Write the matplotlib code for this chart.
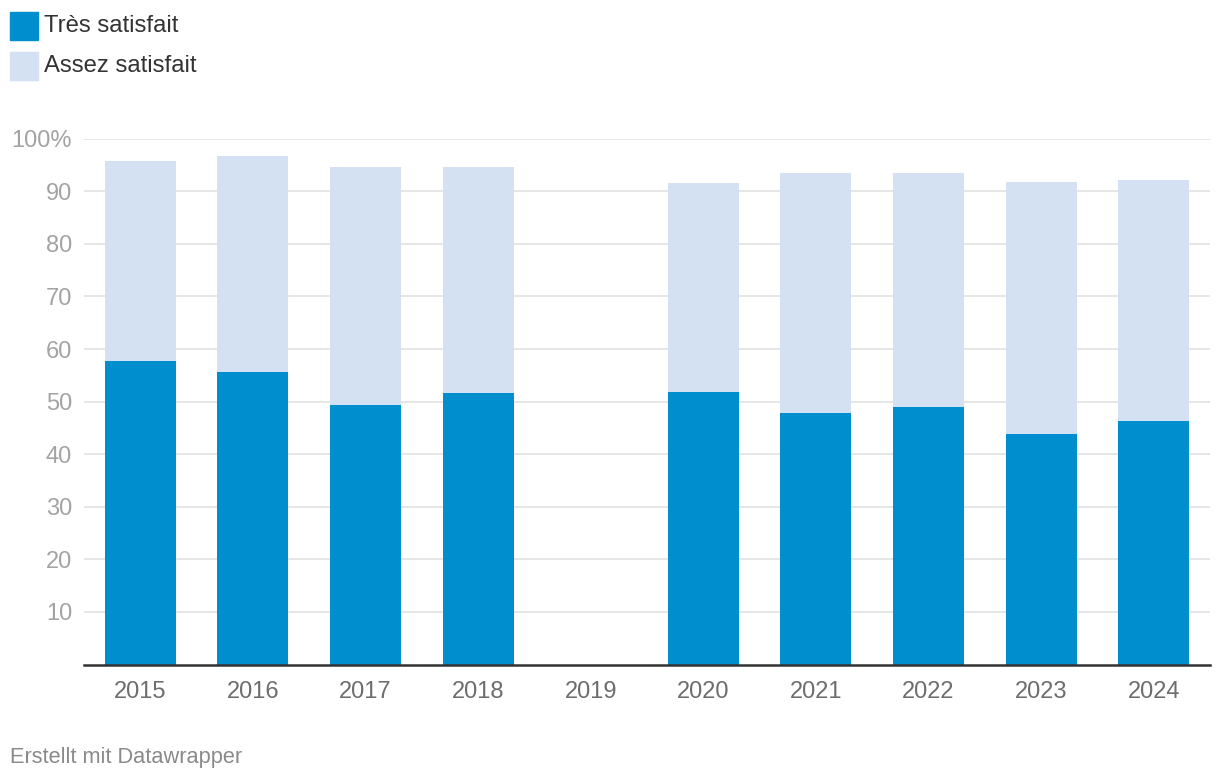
import matplotlib
matplotlib.use("Agg")
import matplotlib.pyplot as plt
from matplotlib.patches import Rectangle

plt.rcParams["font.family"] = ["Liberation Sans", "DejaVu Sans"]

years = ["2015", "2016", "2017", "2018", "2019", "2020", "2021", "2022", "2023", "2024"]
tres = [57.7, 55.6, 49.3, 51.7, None, 51.9, 47.9, 48.9, 43.8, 46.4]
assez = [38.0, 41.1, 45.3, 42.9, None, 39.6, 45.5, 44.5, 47.9, 45.8]
yticks = [10, 20, 30, 40, 50, 60, 70, 80, 90, 100]
ytick_labels = ["10", "20", "30", "40", "50", "60", "70", "80", "90", "100%"]

dark = "#008ecf"
light = "#d3e1f3"

fig = plt.figure(figsize=(12.2, 7.8), dpi=100)
ax = fig.add_axes([84 / 1220, 115.5 / 780, 1126 / 1220, 525.8 / 780])

x = list(range(len(years)))
t = [v if v is not None else 0 for v in tres]
a = [v if v is not None else 0 for v in assez]
ax.bar(x, t, width=0.63, color=dark, zorder=2)
ax.bar(x, a, bottom=t, width=0.63, color=light, zorder=2)

ax.set_xlim(-0.5, len(years) - 0.5)
ax.set_ylim(0, 100)
ax.set_yticks(yticks)
ax.set_yticklabels(ytick_labels)
ax.set_xticks(x)
ax.set_xticklabels(years)
ax.yaxis.grid(True, color="#e4e4e4", linewidth=1.3, zorder=0)
ax.set_axisbelow(True)
for s in ["top", "right", "left"]:
    ax.spines[s].set_visible(False)
ax.spines["bottom"].set_color("#333333")
ax.spines["bottom"].set_linewidth(1.8)
ax.spines["bottom"].set_zorder(3)
ax.tick_params(axis="y", length=0, pad=8.5, labelsize=17, labelcolor="#a3a3a3")
ax.tick_params(axis="x", length=0, pad=12, labelsize=17, labelcolor="#6d6d6d")

# legend
for i, (lab, col) in enumerate([("Très satisfait", dark), ("Assez satisfait", light)]):
    y0 = 780 - 40 - i * 40
    fig.patches.append(Rectangle((10 / 1220, y0 / 780), 28 / 1220, 28 / 780,
                                 color=col, transform=fig.transFigure, figure=fig))
    fig.text(44 / 1220, (y0 + 14) / 780, lab, fontsize=17.2, color="#333333",
             va="center", ha="left")

fig.text(10 / 1220, (780 - 757) / 780, "Erstellt mit Datawrapper", fontsize=15.7,
         color="#8a8a8a", va="center", ha="left")

fig.savefig("out.png", dpi=100)
